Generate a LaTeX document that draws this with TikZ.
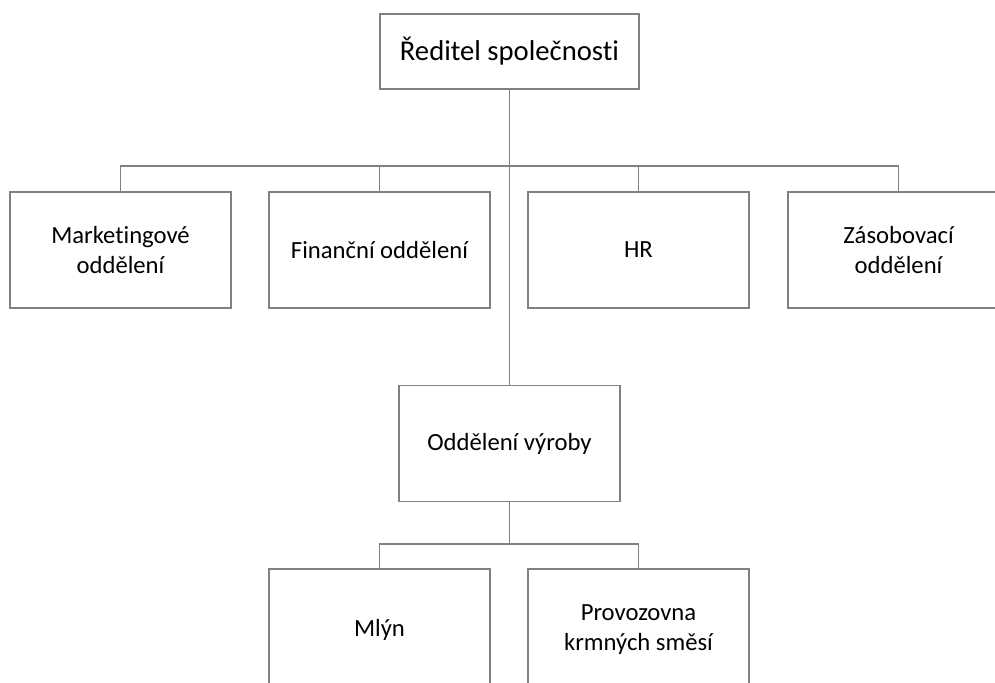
\documentclass[tikz,border=0pt]{standalone}
\usepackage{fontspec}
\setmainfont{Carlito}[Ligatures=NoCommon]
\definecolor{edge}{RGB}{128,128,128}
\begin{document}
\begin{tikzpicture}[x=0.75pt,y=-0.75pt,
  unit box/.style={draw=edge,line width=1pt,fill=white,align=center,
    text=black,font=\fontsize{18.5}{22.5}\selectfont,inner sep=0pt},
  rowbox/.style={unit box,minimum width=165.75pt,minimum height=87pt},
  lowbox/.style={unit box,minimum width=165.75pt,minimum height=91.5pt},
  topbox/.style={unit box,minimum width=194.25pt,minimum height=56.25pt,
    font=\fontsize{21.5}{26}\selectfont},
  link/.style={draw=edge,line width=1pt}]
\useasboundingbox (0,0) rectangle (995,682);
\clip (0,0) rectangle (995,682);
% nodes
\node[topbox] (ceo) at (509.5,51.5) {Ředitel společnosti};
\node[rowbox] (mkt) at (120.5,250) {Marketingové\\oddělení};
\node[rowbox] (fin) at (379.5,250) {Finanční oddělení};
\node[rowbox] (hr)  at (638.5,250) {HR};
\node[rowbox] (zas) at (898.5,250) {Zásobovací\\oddělení};
\node[rowbox] (vyr) at (509.5,443.5) {Oddělení výroby};
\node[lowbox] (mlyn) at (379.5,630) {Mlýn};
\node[lowbox] (prov) at (638.5,630) {Provozovna\\krmných směsí};
% bus lines
\coordinate (bus1) at (509.5,166);
\coordinate (bus2) at (509.5,544);
\draw[link] (ceo.south) -- (vyr.north);
\draw[link] (mkt.north) |- (bus1) -| (zas.north);
\draw[link] (fin.north) -- (fin.north |- bus1);
\draw[link] (hr.north) -- (hr.north |- bus1);
\draw[link] (vyr.south) -- (bus2);
\draw[link] (mlyn.north) |- (bus2) -| (prov.north);
\end{tikzpicture}
\end{document}
